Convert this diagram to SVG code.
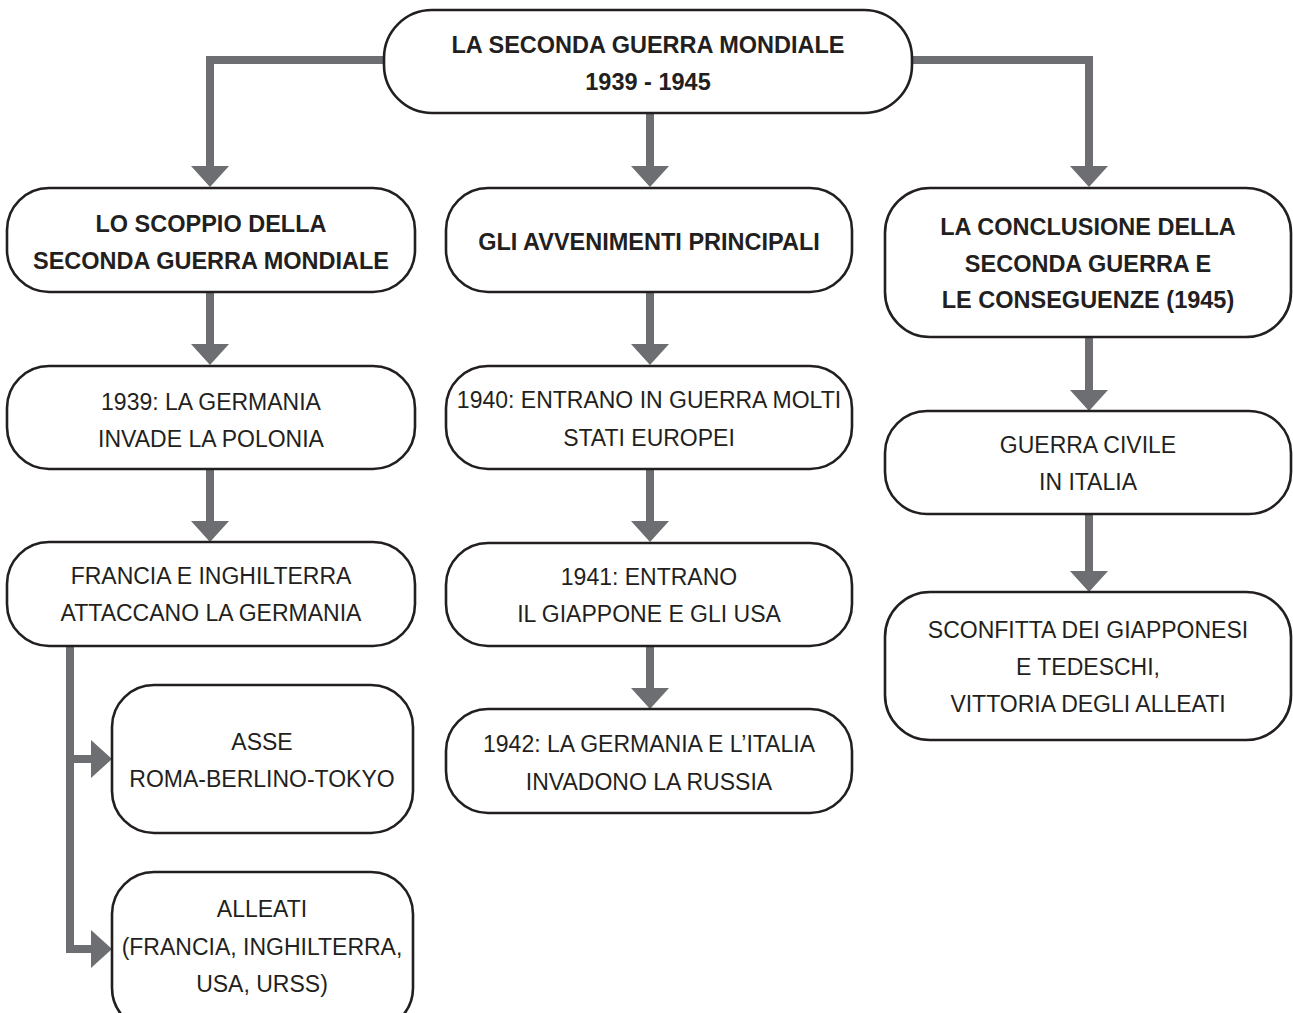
<svg xmlns="http://www.w3.org/2000/svg" width="1293" height="1013" viewBox="0 0 1293 1013">
<defs>
<style>
.box{fill:#fff;stroke:#231f20;stroke-width:2.6}
.t{font-family:"Liberation Sans",Arial,sans-serif;font-size:23px;fill:#231f20;text-anchor:middle}
.b{font-weight:bold;font-size:23.5px}
.c{fill:none;stroke:#6d6e71;stroke-width:8;stroke-linejoin:miter}
.ah{marker-end:url(#arr)}
</style>
<marker id="arr" markerUnits="userSpaceOnUse" viewBox="0 0 21 38" markerWidth="21" markerHeight="38" refX="0" refY="19" orient="auto">
<path d="M0,0 L21,19 L0,38 Z" fill="#6d6e71"/>
</marker>
</defs>
<rect width="1293" height="1013" fill="#fff"/>
<g id="connectors">
<path class="c ah" d="M400,60 H210 V166"/>
<path class="c ah" d="M650,113 V166"/>
<path class="c ah" d="M900,60 H1089 V166"/>
<path class="c ah" d="M210,292 V344"/>
<path class="c ah" d="M210,469 V521"/>
<path class="c ah" d="M70,646 V759 H91"/>
<path class="c ah" d="M70,740 V949 H91"/>
<path class="c ah" d="M650,292 V344"/>
<path class="c ah" d="M650,469 V521"/>
<path class="c ah" d="M650,646 V688"/>
<path class="c ah" d="M1089,337 V390"/>
<path class="c ah" d="M1089,514 V571"/>
</g>
<g id="n-root">
<rect class="box" x="384" y="10" width="528" height="103" rx="48" ry="48"/>
<text class="t b" x="648" y="53">LA SECONDA GUERRA MONDIALE</text>
<text class="t b" x="648" y="90">1939 - 1945</text>
</g>
<g id="n-scoppio">
<rect class="box" x="7" y="188" width="408" height="104" rx="42" ry="42"/>
<text class="t b" x="211" y="232">LO SCOPPIO DELLA</text>
<text class="t b" x="211" y="269">SECONDA GUERRA MONDIALE</text>
</g>
<g id="n-avvenimenti">
<rect class="box" x="446" y="188" width="406" height="104" rx="42" ry="42"/>
<text class="t b" x="649" y="250">GLI AVVENIMENTI PRINCIPALI</text>
</g>
<g id="n-conclusione">
<rect class="box" x="885" y="188" width="406" height="149" rx="45" ry="45"/>
<text class="t b" x="1088" y="235">LA CONCLUSIONE DELLA</text>
<text class="t b" x="1088" y="272">SECONDA GUERRA E</text>
<text class="t b" x="1088" y="308">LE CONSEGUENZE (1945)</text>
</g>
<g id="n-1939">
<rect class="box" x="7" y="366" width="408" height="103" rx="42" ry="42"/>
<text class="t" x="211" y="410">1939: LA GERMANIA</text>
<text class="t" x="211" y="447">INVADE LA POLONIA</text>
</g>
<g id="n-francia">
<rect class="box" x="7" y="542" width="408" height="104" rx="42" ry="42"/>
<text class="t" x="211" y="584">FRANCIA E INGHILTERRA</text>
<text class="t" x="211" y="621">ATTACCANO LA GERMANIA</text>
</g>
<g id="n-asse">
<rect class="box" x="112" y="685" width="301" height="148" rx="42" ry="42"/>
<text class="t" x="262" y="750">ASSE</text>
<text class="t" x="262" y="787">ROMA-BERLINO-TOKYO</text>
</g>
<g id="n-alleati">
<rect class="box" x="112" y="872" width="301" height="158" rx="42" ry="42"/>
<text class="t" x="262" y="917">ALLEATI</text>
<text class="t" x="262" y="955">(FRANCIA, INGHILTERRA,</text>
<text class="t" x="262" y="992">USA, URSS)</text>
</g>
<g id="n-1940">
<rect class="box" x="446" y="366" width="406" height="103" rx="42" ry="42"/>
<text class="t" x="649" y="408">1940: ENTRANO IN GUERRA MOLTI</text>
<text class="t" x="649" y="446">STATI EUROPEI</text>
</g>
<g id="n-1941">
<rect class="box" x="446" y="543" width="406" height="103" rx="42" ry="42"/>
<text class="t" x="649" y="585">1941: ENTRANO</text>
<text class="t" x="649" y="622">IL GIAPPONE E GLI USA</text>
</g>
<g id="n-1942">
<rect class="box" x="446" y="709" width="406" height="104" rx="42" ry="42"/>
<text class="t" x="649" y="752">1942: LA GERMANIA E L’ITALIA</text>
<text class="t" x="649" y="790">INVADONO LA RUSSIA</text>
</g>
<g id="n-civile">
<rect class="box" x="885" y="411" width="406" height="103" rx="42" ry="42"/>
<text class="t" x="1088" y="453">GUERRA CIVILE</text>
<text class="t" x="1088" y="490">IN ITALIA</text>
</g>
<g id="n-sconfitta">
<rect class="box" x="885" y="592" width="406" height="148" rx="45" ry="45"/>
<text class="t" x="1088" y="638">SCONFITTA DEI GIAPPONESI</text>
<text class="t" x="1088" y="675">E TEDESCHI,</text>
<text class="t" x="1088" y="712">VITTORIA DEGLI ALLEATI</text>
</g>
</svg>
